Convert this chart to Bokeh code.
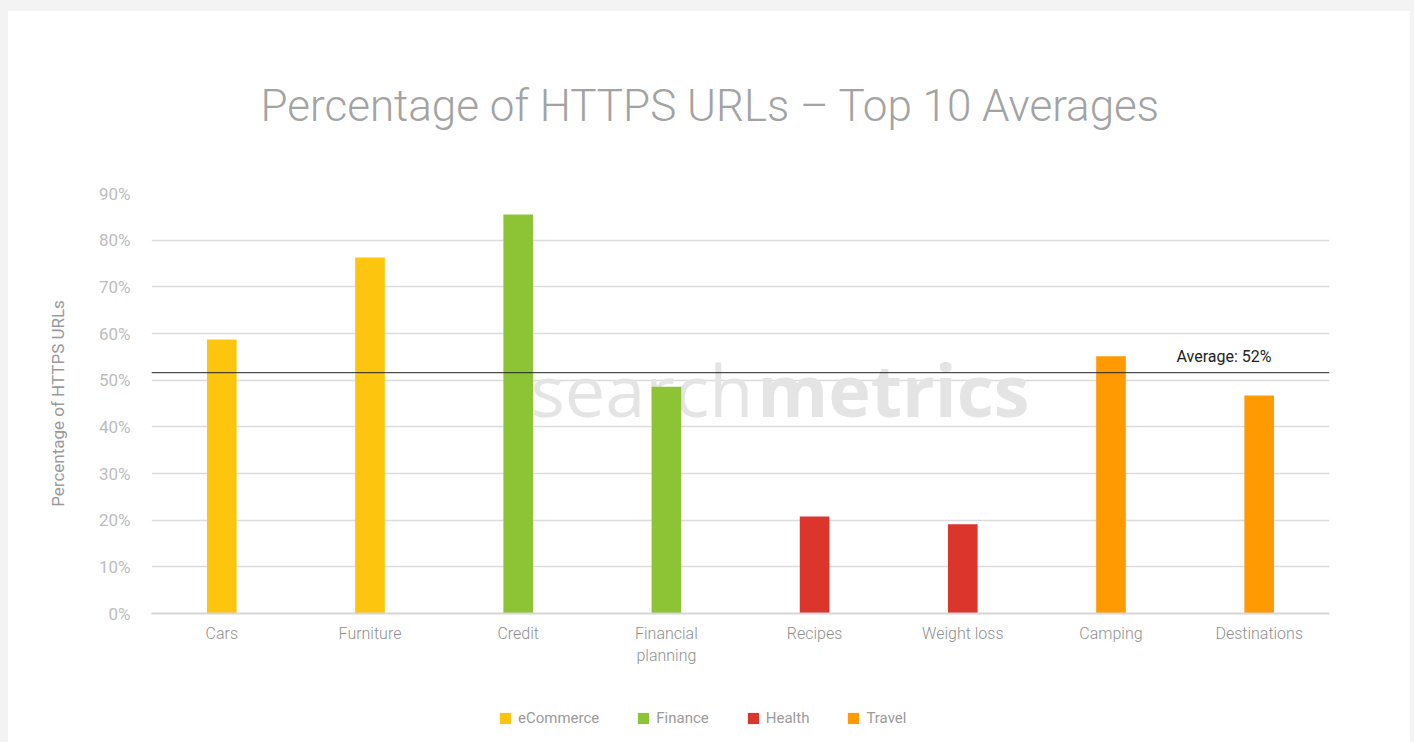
from bokeh.plotting import figure
from bokeh.layouts import column
from bokeh.models import (Label, Span, FixedTicker, NumeralTickFormatter,
                          ColumnDataSource, FactorRange, Range1d)
from bokeh.transform import factor_cmap
from bokeh.embed import file_html
from bokeh.resources import INLINE

# ---- data ----
categories = ["Cars", "Furniture", "Credit", "Financial\nplanning",
              "Recipes", "Weight loss", "Camping", "Destinations"]
groups = ["eCommerce", "eCommerce", "Finance", "Finance",
          "Health", "Health", "Travel", "Travel"]
values = [0.587, 0.763, 0.855, 0.486, 0.208, 0.191, 0.551, 0.467]
group_names = ["eCommerce", "Finance", "Health", "Travel"]
group_colors = ["#FDC50E", "#8DC435", "#DC352C", "#FF9A02"]
average_value = 0.516
average_text = "Average: 52%"
y_ticks = [0.0, 0.1, 0.2, 0.3, 0.4, 0.5, 0.6, 0.7, 0.8, 0.9]
title_text = "Percentage of HTTPS URLs \u2013 Top 10 Averages"
y_label = "Percentage of HTTPS URLs"

src = ColumnDataSource(dict(cat=categories, grp=groups, val=values))

p = figure(width=1402, height=690, output_backend="svg", toolbar_location=None,
           x_range=FactorRange(*categories, range_padding=-0.0064),
           y_range=Range1d(0, 0.9),
           min_border_left=143, min_border_right=81,
           min_border_top=182, min_border_bottom=88)
p.outline_line_color = None
p.background_fill_color = "white"
p.border_fill_color = "white"

# title
p.title.text = title_text
p.title.align = "left"
p.title.offset = 109
p.title.text_font = "Roboto Light"
p.title.text_font_style = "normal"
p.title.text_font_size = "44px"
p.title.text_color = "#a3a3a3"
p.title.standoff = 123

# watermark
wm1 = Label(x=379, y=225, x_units="screen", y_units="screen", text="search",
            text_font="Open Sans", text_font_size="72px", text_color="#e4e4e4",
            text_baseline="alphabetic", level="underlay")
wm2 = Label(x=606, y=225, x_units="screen", y_units="screen", text="metrics",
            text_font="Open Sans", text_font_style="bold", text_font_size="72px",
            text_color="#e4e4e4", text_baseline="alphabetic", level="underlay")
p.add_layout(wm1)
p.add_layout(wm2)

p.vbar(x="cat", top="val", width=0.2, source=src, line_color=None,
       fill_color=factor_cmap("grp", palette=group_colors, factors=group_names))

# average line
p.add_layout(Span(location=average_value, dimension="width",
                  line_color="#222222", line_width=1))
p.add_layout(Label(x=1120, y=average_value, x_units="screen", y_units="data",
                   y_offset=7, text=average_text, text_align="right",
                   text_baseline="bottom", text_font="Roboto",
                   text_font_size="16px", text_color="#222222"))

# axes
p.yaxis.ticker = FixedTicker(ticks=y_ticks)
p.yaxis.formatter = NumeralTickFormatter(format="0%")
p.yaxis.axis_line_color = None
p.yaxis.major_tick_line_color = None
p.yaxis.major_tick_out = 0
p.yaxis.minor_tick_line_color = None
p.yaxis.major_label_text_font = "Roboto"
p.yaxis.major_label_text_font_size = "17px"
p.yaxis.major_label_text_color = "#bdbdbd"
p.yaxis.major_label_standoff = 21
p.yaxis.axis_label = y_label
p.yaxis.axis_label_text_font = "Roboto"
p.yaxis.axis_label_text_font_style = "normal"
p.yaxis.axis_label_text_font_size = "17px"
p.yaxis.axis_label_text_color = "#9a9a9a"
p.yaxis.axis_label_standoff = 28

p.xaxis.axis_line_color = "#d6d6d6"
p.xaxis.axis_line_width = 2
p.xaxis.major_tick_line_color = None
p.xaxis.major_tick_out = 0
p.xaxis.minor_tick_line_color = None
p.xaxis.major_label_text_font = "Roboto Light"
p.xaxis.major_label_text_font_size = "16px"
p.xaxis.major_label_text_color = "#8f8f8f"
p.xaxis.major_label_standoff = 10

p.xgrid.grid_line_color = None
p.ygrid.grid_line_color = "#dcdcdc"
p.ygrid.grid_line_width = 1.5

# ---- legend strip (separate figure below the chart) ----
lf = figure(width=1402, height=41, output_backend="svg", toolbar_location=None,
            x_range=FactorRange(*group_names), y_range=Range1d(0, 1),
            x_axis_location=None, y_axis_location=None,
            min_border_left=0, min_border_right=0,
            min_border_top=0, min_border_bottom=0)
lf.outline_line_color = None
lf.grid.visible = False
lf.background_fill_color = "white"
lf.border_fill_color = "white"
for name, color in zip(group_names, group_colors):
    # zero-height bar: only its legend swatch is visible
    lf.vbar(x=[name], top=[0], width=0.1, fill_color=color, line_color=None,
            legend_label=name)
lg = lf.legend[0]
lg.orientation = "horizontal"
lg.location = (347, 15)
lg.padding = 0
lg.margin = 0
lg.spacing = 37
lg.border_line_color = None
lg.background_fill_alpha = 0
lg.glyph_width = 14
lg.glyph_height = 14
lg.label_height = 14
lg.label_standoff = 6
lg.label_text_font = "Roboto"
lg.label_text_font_size = "15px"
lg.label_text_color = "#9a9a9a"
lg.label_text_baseline = "middle"

layout = column(p, lf, spacing=0)

html = file_html(layout, INLINE)
html = html.replace("</head>",
                    "<style>html{background:#f3f3f3 !important;overflow:hidden !important;}"
                    "body{background:#ffffff !important;margin:11px 4px 0 8px !important;"
                    "padding:0 !important;overflow:hidden !important;}</style></head>", 1)
open("out.html", "w").write(html)
